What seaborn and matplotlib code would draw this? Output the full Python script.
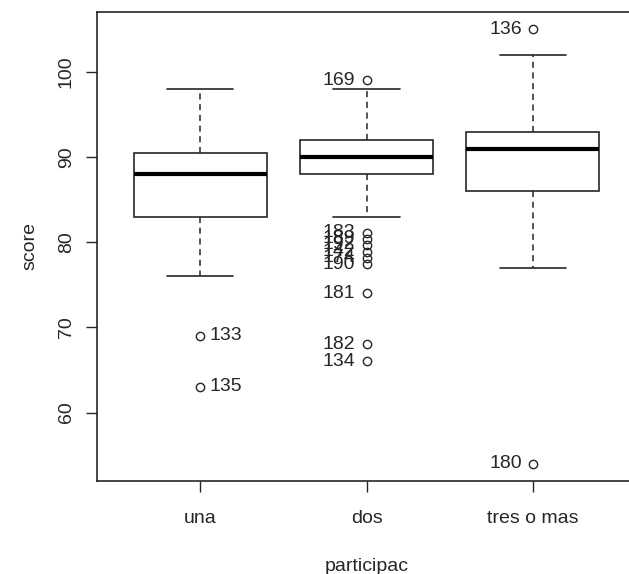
import numpy as np
import pandas as pd
import seaborn as sns
import matplotlib.pyplot as plt

# scores per group (quartiles, whiskers and outliers)
groups = ['una', 'dos', 'tres o mas']
una = [63, 69, 76, 83, 85, 86, 88, 89, 90, 90.5, 92, 95, 98]
dos = [66, 68, 74, 77.4, 78.2, 78.9, 79.7, 80.4, 81.1, 83,
       88, 88, 88.5, 89, 89, 89, 89.5, 90, 90, 90,
       90, 90, 90.5, 91, 91, 91, 91.5, 92, 92, 92,
       92, 92.5, 93, 93, 94, 94.5, 95, 96, 97, 98, 99]
tres = [54, 77, 82, 86, 88, 90, 91, 92, 92.5, 93, 96, 102, 105]

# case numbers of the outliers
una_out = [69, 63]
una_ids = ['133', '135']
dos_out = [99, 81.1, 80.4, 79.7, 78.9, 78.2, 77.4, 74, 68, 66]
dos_ids = ['169', '183', '189', '192', '142', '174', '190', '181', '182', '134']
tres_out = [105, 54]
tres_ids = ['136', '180']

df = pd.DataFrame({
    'participac': ['una'] * len(una) + ['dos'] * len(dos) + ['tres o mas'] * len(tres),
    'score': una + dos + tres,
})

sns.set_style('white')
plt.rcParams['font.family'] = ['Liberation Sans', 'DejaVu Sans']
ink = '#262626'

fig = plt.figure(figsize=(6.29, 5.74), dpi=100)
ax = fig.add_axes([97 / 629, 1 - 481 / 574, (636 - 97) / 629, (481 - 12) / 574])

sns.boxplot(data=df, x='participac', y='score', order=groups, ax=ax,
            color='white', linecolor=ink, linewidth=1.2, width=0.8, whis=1.5,
            medianprops=dict(color='black', linewidth=3),
            whiskerprops=dict(linestyle=(0, (4, 3)), linewidth=1.1),
            capprops=dict(linewidth=1.2),
            flierprops=dict(marker='o', markerfacecolor='none',
                            markeredgecolor=ink, markersize=6, markeredgewidth=1.0))

# outlier labels
for v, t in zip(una_out, una_ids):
    ax.annotate(t, (0, v), xytext=(7, 0), textcoords='offset points',
                ha='left', va='center', fontsize=14, color=ink)
for v, t in zip(dos_out, dos_ids):
    ax.annotate(t, (1, v), xytext=(-8, 0), textcoords='offset points',
                ha='right', va='center', fontsize=14, color=ink)
for v, t in zip(tres_out, tres_ids):
    ax.annotate(t, (2, v), xytext=(-8, 0), textcoords='offset points',
                ha='right', va='center', fontsize=14, color=ink)

ax.set_xlim(-0.62, 2.62)
ax.set_ylim(51.96, 107.04)
ax.set_yticks([60, 70, 80, 90, 100])
for lab in ax.get_yticklabels():
    lab.set_rotation(90)
    lab.set_va('center')
ax.tick_params(axis='both', direction='out', length=8, width=1, color=ink,
               labelsize=14, labelcolor=ink, left=True, bottom=True)
ax.tick_params(axis='y', pad=8)
ax.tick_params(axis='x', pad=13)
ax.set_xlabel('participac', fontsize=14, color=ink, labelpad=22)
ax.set_ylabel('score', fontsize=14, color=ink, labelpad=14)
for s in ax.spines.values():
    s.set_color(ink)
    s.set_linewidth(1.2)

plt.savefig('out.png', dpi=100)
